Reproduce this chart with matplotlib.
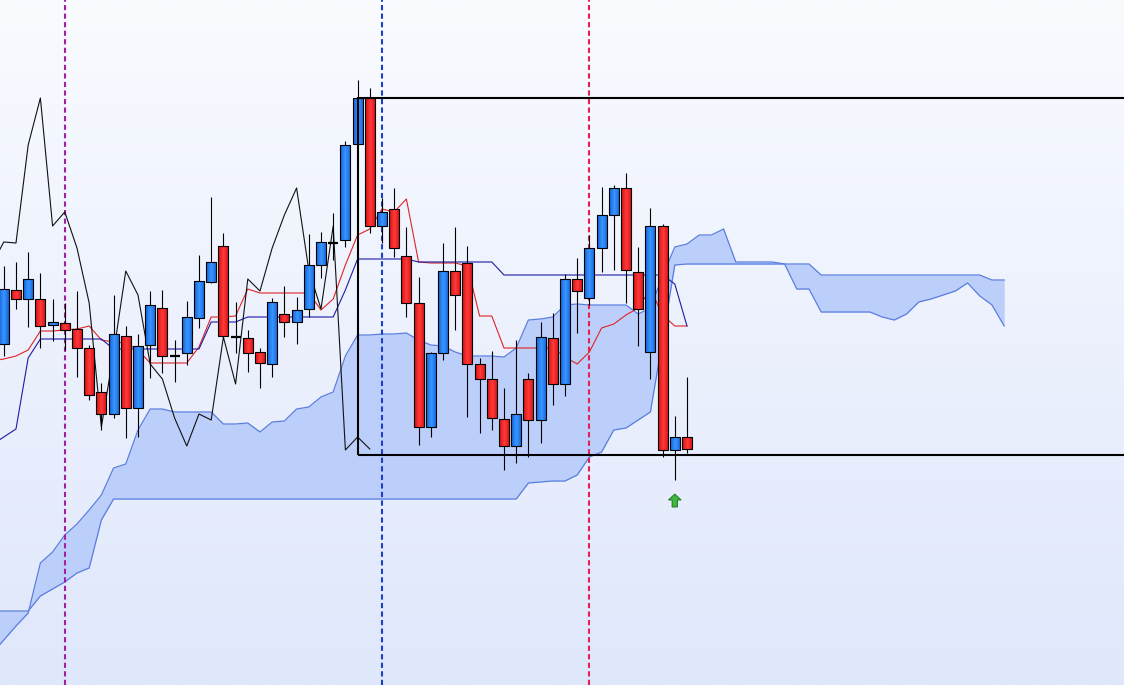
import numpy as np
import matplotlib.pyplot as plt
from matplotlib.patches import Rectangle
from matplotlib.colors import LinearSegmentedColormap

# candles (bar 0 .. 56), price units
opens = [656, 710, 701, 701, 675, 677, 671, 652, 608, 586, 664, 592, 655, 692, 644, 647,
         682, 718, 754, 663, 662, 648, 636, 686, 678, 691, 735, 757, 760, 856, 902, 774,
         791, 744, 697, 573, 647, 729, 737, 636, 621, 581, 554, 621, 580, 662, 616, 721,
         702, 752, 785, 812, 728, 648, 774, 550, 563]
highs = [734, 738, 748, 727, 701, 697, 709, 655, 617, 705, 674, 666, 709, 710, 660, 699,
         745, 803, 767, 698, 670, 652, 702, 714, 703, 766, 768, 787, 859, 920, 912, 802,
         812, 773, 723, 648, 757, 773, 754, 642, 649, 612, 660, 627, 678, 687, 726, 742,
         765, 813, 815, 827, 753, 792, 776, 584, 623]
lows = [644, 691, 673, 652, 659, 650, 623, 600, 570, 582, 562, 563, 622, 627, 618, 635,
        672, 717, 663, 647, 628, 612, 623, 663, 656, 683, 722, 740, 753, 855, 767, 757,
        743, 683, 555, 563, 640, 670, 583, 567, 570, 530, 537, 543, 557, 595, 604, 667,
        695, 728, 730, 697, 654, 621, 543, 520, 547]
closes = [711, 701, 721, 674, 678, 670, 652, 605, 586, 666, 592, 654, 695, 644, 644, 683,
          719, 738, 664, 663, 647, 637, 698, 678, 690, 735, 758, 757, 855, 902, 774, 788,
          752, 697, 573, 647, 729, 705, 636, 621, 582, 554, 586, 580, 663, 616, 721, 709,
          752, 785, 812, 730, 691, 774, 550, 563, 551]

# ichimoku lines, starting one bar left of bar 0
tenkan = [639, 641, 644, 650, 669, 669, 670, 671, 674, 660, 658, 657, 650, 637, 637, 637,
          637, 653, 683, 683, 684, 711, 707, 707, 707, 707, 707, 690, 701, 735, 765, 771,
          791, 788, 801, 738, 737, 737, 737, 734, 684, 684, 652, 652, 652, 652, 652, 643,
          636, 648, 672, 676, 685, 692, 711, 685, 674, 674]
kijun = [555, 563, 571, 642, 661, 661, 661, 661, 661, 661, 651, 651, 651, 651, 651, 651,
         651, 651, 678, 678, 678, 683, 683, 683, 683, 683, 683, 683, 683, 710, 741, 741,
         741, 741, 741, 738, 738, 738, 738, 738, 738, 738, 725, 725, 725, 725, 725, 725,
         725, 725, 725, 725, 725, 725, 725, 725, 716, 674]
# senkou spans, already shifted 26 bars ahead (bar -1 .. 82)
span_a = [346, 360, 374, 387, 437, 448, 465, 476, 490, 505, 532, 536, 570, 591, 591, 588,
          588, 588, 588, 576, 576, 577, 568, 578, 579, 591, 593, 603, 608, 644, 665, 665,
          666, 666, 667, 660, 655, 654, 648, 644, 644, 644, 643, 652, 680, 681, 683, 695,
          696, 695, 695, 695, 695, 686, 692, 724, 753, 756, 765, 765, 771, 738, 738, 738,
          738, 736, 711, 711, 688, 688, 688, 688, 688, 683, 680, 686, 698, 701, 705, 709,
          717, 704, 695, 674]
span_b = [389, 389, 389, 389, 404, 411, 418, 427, 432, 480] + [501] * 34 + \
         [517, 518, 519, 519, 525, 543, 548, 570, 572, 580, 588, 660, 735] + [736] * 11 + \
         [725] * 14 + [720, 720]

# markers
vlines = [5, 31, 48]
vline_colors = ['#a0229e', '#1f3fc4', '#e5214f']
box_start = 29
box_top = 902
box_bottom = 545
signal_bar = 55

fig = plt.figure(figsize=(11.24, 6.85), dpi=100)
ax = fig.add_axes([0, 0, 1, 1])
ax.axis('off')

# background
bg = LinearSegmentedColormap.from_list('bg', ['#dfe7fb', '#f9fbff'])
ax.imshow(np.linspace(0, 1, 256).reshape(-1, 1), cmap=bg, origin='lower',
          extent=[0, 1, 0, 1], transform=ax.transAxes, aspect='auto', zorder=0)

# cloud
xs = np.arange(len(span_a)) - 1
ax.fill_between(xs, span_a, span_b, color='#bccffa', lw=0, zorder=1)
ax.plot(xs, span_a, color='#5a7ee0', lw=0.9, zorder=2)
ax.plot(xs, span_b, color='#5a7ee0', lw=0.9, zorder=2)

# tenkan / kijun / chikou
xl = np.arange(len(tenkan)) - 1
ax.plot(xl, tenkan, color='#e02424', lw=0.8, zorder=3)
ax.plot(xl, kijun, color='#1c1ca8', lw=0.8, zorder=3)
chikou = closes[25:]
ax.plot(np.arange(25, len(closes)) - 26, chikou, color='#111111', lw=0.8, zorder=3)

for v, c in zip(vlines, vline_colors):
    ax.axvline(v, color=c, lw=1.5, ls=(0, (2.5, 1.6)), zorder=2.5)

# candles
blue = LinearSegmentedColormap.from_list('b', ['#3a96ff', '#1463db'])
red = LinearSegmentedColormap.from_list('r', ['#ff3b3b', '#d41010'])
grad = np.abs(np.linspace(-1, 1, 21)).reshape(1, -1)
w = 0.82
for i in range(len(opens)):
    o, h, l, c = opens[i], highs[i], lows[i], closes[i]
    ax.vlines(i, l, h, color='black', lw=0.8, zorder=4)
    if o == c:
        ax.hlines(c, i - w / 2, i + w / 2, color='black', lw=1.6, zorder=5)
        continue
    lo, hi = min(o, c), max(o, c)
    ax.imshow(grad, cmap=blue if c > o else red, extent=[i - w / 2, i + w / 2, lo, hi],
              aspect='auto', zorder=5)
    ax.add_patch(Rectangle((i - w / 2, lo), w, hi - lo, fill=False, ec='black', lw=0.8, zorder=5.1))

# box
ax.add_patch(Rectangle((box_start, box_bottom), 100, box_top - box_bottom,
                       fill=False, ec='black', lw=1.5, zorder=6))

# signal arrow
tip = lows[signal_bar] - 14
ax.arrow(signal_bar, tip - 13, 0, 13, width=0.45, head_width=1.05, head_length=6,
         length_includes_head=True, fc='#3db83d', ec='#1d6b1d', lw=0.6, zorder=6)

ax.set_xlim(-0.31, 91.82)
ax.set_ylim(315, 1000)

fig.savefig('out.png', dpi=100)
